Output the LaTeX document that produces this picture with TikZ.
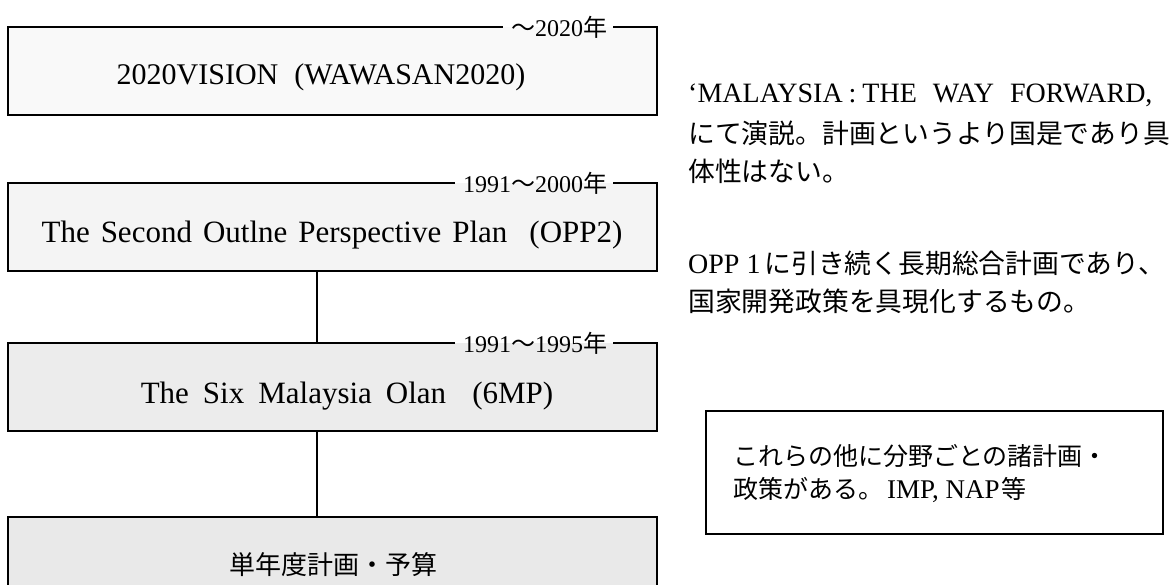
\documentclass[tikz,border=0pt]{standalone}
\usepackage{fontspec}
\setmainfont{Liberation Serif}
\newfontfamily\jp{Noto Sans CJK JP}
\usetikzlibrary{calc}
\newcommand{\gap}[1]{\hspace{#1pt}}
\begin{document}
\begin{tikzpicture}[x=1pt,y=-1pt,
  edge/.style={line width=1.8pt, black},
  boxfill/.style={draw=none, inner sep=0pt, outer sep=0pt, anchor=north west, minimum width=649pt, minimum height=88pt},
  lab/.style={inner sep=0pt, outer sep=0pt, font=\fontsize{24}{28}\selectfont},
  btxt/.style={inner sep=0pt, font=\fontsize{31}{36}\selectfont},
  rtxt/.style={inner sep=0pt, anchor=west, font=\fontsize{28}{32}\selectfont},
  rjp/.style={inner sep=0pt, anchor=west, font=\fontsize{26.8}{32}\selectfont\jp},
  ntxt/.style={inner sep=0pt, anchor=west, font=\fontsize{25}{30}\selectfont}]
\useasboundingbox (0,0) rectangle (1172,584);

% left column boxes
\node[boxfill, fill=gray!5] (b1) at (8,27) {};
\node[boxfill, fill=gray!9] (b2) at (8,183) {};
\node[boxfill, fill=gray!15] (b3) at (8,343) {};
\node[boxfill, fill=gray!17, minimum height=110pt] (b4) at (8,517) {};

% period labels
\node[lab, anchor=east] (l1) at ($(b1.north east)+(-50,0)$) {{\jp ～}2020{\jp 年}};
\node[lab, anchor=east] (l2) at ($(b2.north east)+(-50,0)$) {1991{\jp ～}2000{\jp 年}};
\node[lab, anchor=east] (l3) at ($(b3.north east)+(-50,0)$) {1991{\jp ～}1995{\jp 年}};

% box borders with the label gaps
\draw[edge] ($(l1.east)+(6,0)$) -- (b1.north east) |- (b1.south west) |- ($(l1.west)+(-8,0)$);
\draw[edge] ($(l2.east)+(6,0)$) -- (b2.north east) |- (b2.south west) |- ($(l2.west)+(-8,0)$);
\draw[edge] ($(l3.east)+(6,0)$) -- (b3.north east) |- (b3.south west) |- ($(l3.west)+(-8,0)$);
\draw[edge] (b4.south west) -- (b4.north west) -- (b4.north east) -- (b4.south east);

% box texts
\node[btxt, font=\fontsize{30}{36}\selectfont] (t1) at (321,77) {2020VISION\gap{16}(WAWASAN2020)};
\node[btxt] (t2) at (332,235) {The\gap{11}Second\gap{11}Outlne\gap{11}Perspective\gap{11}Plan\gap{22}(OPP2)};
\node[btxt] (t3) at (347,396) {The\gap{14}Six\gap{14}Malaysia\gap{14}Olan\gap{26}(6MP)};
\node[btxt, font=\fontsize{26}{30}\selectfont\jp] (t4) at (333,565) {単年度計画・予算};

% connectors
\coordinate (cx) at (317,0);
\draw[edge] (b2.south -| cx) -- (b3.north -| cx);
\draw[edge] (b3.south -| cx) -- (b4.north -| cx);

% right column notes
\node[rtxt] (r1) at (688,95) {‘MALAYSIA\gap{6}:\gap{6}THE\gap{16}WAY\gap{16}FORWARD,};
\node[rjp] (r2) at (688,133) {にて演説。計画というより国是であり具};
\node[rjp] (r3) at (688,171) {体性はない。};
\node[rtxt] (r4) at (688,263) {OPP 1\gap{4}{\fontsize{26.8}{32}\selectfont\jp に引き続く長期総合計画であり、}};
\node[rjp] (r5) at (688,301) {国家開発政策を具現化するもの。};

% other plans box
\node[draw, line width=1.6pt, inner sep=0pt, anchor=north west, minimum width=457pt, minimum height=123pt] (b5) at (705,410) {};
\node[ntxt, font=\fontsize{25}{30}\selectfont\jp] (n1) at (733,456) {これらの他に分野ごとの諸計画・};
\node[ntxt] (n2) at (733,490) {{\jp 政策がある。}\gap{4}{\fontsize{27}{30}\selectfont IMP, NAP}\gap{2}{\jp 等}};
\end{tikzpicture}
\end{document}
